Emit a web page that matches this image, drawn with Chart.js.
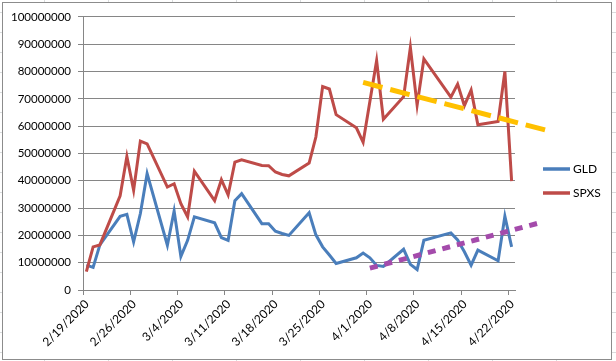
<!DOCTYPE html>
<html>
<head>
<meta charset="utf-8">
<title>GLD vs SPXS volume</title>
<script src="https://cdn.jsdelivr.net/npm/chart.js@4.4.1/dist/chart.umd.min.js"></script>
<style>
    html, body {
        margin: 0;
        padding: 0;
        width: 616px;
        height: 361px;
        overflow: hidden;
        background-color: #fff;
        /* spreadsheet cells behind the chart object */
        background-image:
            linear-gradient(to right, #dadcdd 1px, transparent 1px),
            linear-gradient(to bottom, #dadcdd 1px, transparent 1px);
        background-size: 64px 20px;
        background-position: 44px 12px;
    }
    #chartBox {
        position: absolute;
        left: 2px;
        top: 2px;
        width: 608px;
        height: 356px;
        border: 1px solid #8c8c8c;
        background: #fff;
    }
    #chartBox canvas {
        display: block;
    }
</style>
</head>
<body>
<div id="chartBox"><canvas id="volumeChart" width="608" height="356"></canvas></div>
<script>
// Trading days shown on the chart
const dates = [
    '2/19/2020', '2/20/2020', '2/21/2020', '2/24/2020', '2/25/2020', '2/26/2020', '2/27/2020', '2/28/2020',
    '3/2/2020', '3/3/2020', '3/4/2020', '3/5/2020', '3/6/2020', '3/9/2020', '3/10/2020', '3/11/2020',
    '3/12/2020', '3/13/2020', '3/16/2020', '3/17/2020', '3/18/2020', '3/19/2020', '3/20/2020', '3/23/2020',
    '3/24/2020', '3/25/2020', '3/26/2020', '3/27/2020', '3/30/2020', '3/31/2020', '4/1/2020', '4/2/2020',
    '4/3/2020', '4/6/2020', '4/7/2020', '4/8/2020', '4/9/2020', '4/13/2020', '4/14/2020', '4/15/2020',
    '4/16/2020', '4/17/2020', '4/20/2020', '4/21/2020', '4/22/2020'
];

const gld = [
    9100000, 8300000, 16500000, 27000000, 27700000, 17600000, 28000000, 42600000,
    16400000, 28900000, 12300000, 18200000, 26800000, 24600000, 19200000, 18200000,
    32700000, 35300000, 24300000, 24300000, 21500000, 20700000, 20000000, 28300000,
    20200000, 15800000, 12800000, 9700000, 11800000, 13500000, 11800000, 9000000,
    8600000, 14900000, 9400000, 7500000, 18200000, 20900000, 18300000, 14000000,
    9100000, 14600000, 10700000, 27000000, 15800000
];

const spxs = [
    6700000, 15800000, 16500000, 34500000, 48900000, 36500000, 54500000, 53500000,
    37700000, 38900000, 31600000, 26800000, 43500000, 32700000, 40400000, 34800000,
    46800000, 47700000, 45600000, 45500000, 43200000, 42300000, 41800000, 46500000,
    56000000, 74500000, 73600000, 64200000, 59400000, 54100000, 69000000, 84000000,
    62500000, 70800000, 88800000, 67700000, 84600000, 70600000, 75400000, 67500000,
    73200000, 60500000, 61700000, 80000000, 39900000
];

// Linear trendlines (end points)
const spxsTrendDates = ['3/31/2020', '4/27/2020'];
const spxsTrend = [76000000, 58600000];
const gldTrendDates = ['4/1/2020', '4/26/2020'];
const gldTrend = [8000000, 24500000];

// Category axis labels, one every 7 days
const xTickLabels = ['2/19/2020', '2/26/2020', '3/4/2020', '3/11/2020', '3/18/2020',
    '3/25/2020', '4/1/2020', '4/8/2020', '4/15/2020', '4/22/2020'];

const firstDay = dates[0];
const lastDay = dates[dates.length - 1];

// days elapsed since the first date
function dayIndex(str) {
    const p = str.split('/').map(Number);
    const f = firstDay.split('/').map(Number);
    const t = Date.UTC(p[2], p[0] - 1, p[1]);
    const t0 = Date.UTC(f[2], f[0] - 1, f[1]);
    return Math.round((t - t0) / 86400000);
}

function toPoints(days, values) {
    return values.map((v, i) => ({ x: dayIndex(days[i]), y: v }));
}

// Draw legend to the right of the plot, Excel style
const sideLegend = {
    id: 'sideLegend',
    afterDraw(chart) {
        const ctx = chart.ctx;
        const area = chart.chartArea;
        const items = chart.data.datasets.filter(ds => !ds.trend);
        ctx.save();
        ctx.font = '12px Lato, "Open Sans", sans-serif';
        ctx.textBaseline = 'middle';
        ctx.textAlign = 'left';
        items.forEach((ds, i) => {
            const x = area.right + 28;
            const y = chart.height / 2 - 12 + i * 24;
            ctx.strokeStyle = ds.borderColor;
            ctx.lineWidth = 3.5;
            ctx.beginPath();
            ctx.moveTo(x, y);
            ctx.lineTo(x + 27, y);
            ctx.stroke();
            ctx.fillStyle = '#000';
            ctx.fillText(ds.label, x + 30, y + 0.5);
        });
        ctx.restore();
    }
};

function createChart() {
    const canvas = document.getElementById('volumeChart');
    Chart.defaults.font.family = 'Lato, "Open Sans", sans-serif';
    Chart.defaults.color = '#000';

    const gridColor = '#868686';

    new Chart(canvas, {
        type: 'line',
        data: {
            datasets: [
                {
                    label: 'GLD',
                    data: toPoints(dates, gld),
                    borderColor: '#4a7ebb',
                    borderWidth: 3,
                    pointRadius: 0,
                    tension: 0,
                    fill: false,
                    order: 2
                },
                {
                    label: 'SPXS',
                    data: toPoints(dates, spxs),
                    borderColor: '#be4b48',
                    borderWidth: 3,
                    pointRadius: 0,
                    tension: 0,
                    fill: false,
                    order: 1
                },
                {
                    label: 'SPXS trend',
                    trend: true,
                    data: toPoints(spxsTrendDates, spxsTrend),
                    borderColor: '#ffc000',
                    borderWidth: 5,
                    borderDash: [20, 8],
                    borderCapStyle: 'butt',
                    pointRadius: 0,
                    fill: false,
                    clip: false,
                    order: 0
                },
                {
                    label: 'GLD trend',
                    trend: true,
                    data: toPoints(gldTrendDates, gldTrend),
                    borderColor: '#a44bab',
                    borderWidth: 5,
                    borderDash: [8, 7],
                    borderCapStyle: 'butt',
                    pointRadius: 0,
                    fill: false,
                    clip: false,
                    order: 0
                }
            ]
        },
        options: {
            responsive: false,
            animation: false,
            devicePixelRatio: 1,
            layout: {
                padding: { left: 0, top: 13, right: 96, bottom: 0 }
            },
            plugins: {
                legend: { display: false },
                tooltip: { enabled: false }
            },
            scales: {
                x: {
                    type: 'linear',
                    min: dayIndex(firstDay) - 0.5,
                    max: dayIndex(lastDay) + 0.5,
                    afterBuildTicks: function(scale) {
                        scale.ticks = xTickLabels.map(l => ({ value: dayIndex(l) - 0.5 }));
                    },
                    afterFit: function(scale) {
                        scale.height = 69;
                    },
                    ticks: {
                        autoSkip: false,
                        minRotation: 45,
                        maxRotation: 45,
                        labelOffset: 4,
                        padding: 2,
                        font: { size: 12 },
                        callback: function(value, index) {
                            return xTickLabels[index];
                        }
                    },
                    grid: {
                        drawOnChartArea: false,
                        drawTicks: true,
                        tickLength: 5,
                        color: gridColor
                    },
                    border: { color: gridColor }
                },
                y: {
                    min: 0,
                    max: 100000000,
                    afterFit: function(scale) {
                        scale.width = 80;
                    },
                    ticks: {
                        stepSize: 10000000,
                        padding: 7,
                        font: { size: 11.5 },
                        callback: function(value) {
                            return value.toString();
                        }
                    },
                    grid: {
                        color: gridColor,
                        tickLength: 5
                    },
                    border: { color: gridColor }
                }
            }
        },
        plugins: [sideLegend]
    });
}

document.addEventListener('DOMContentLoaded', createChart);
</script>
</body>
</html>
